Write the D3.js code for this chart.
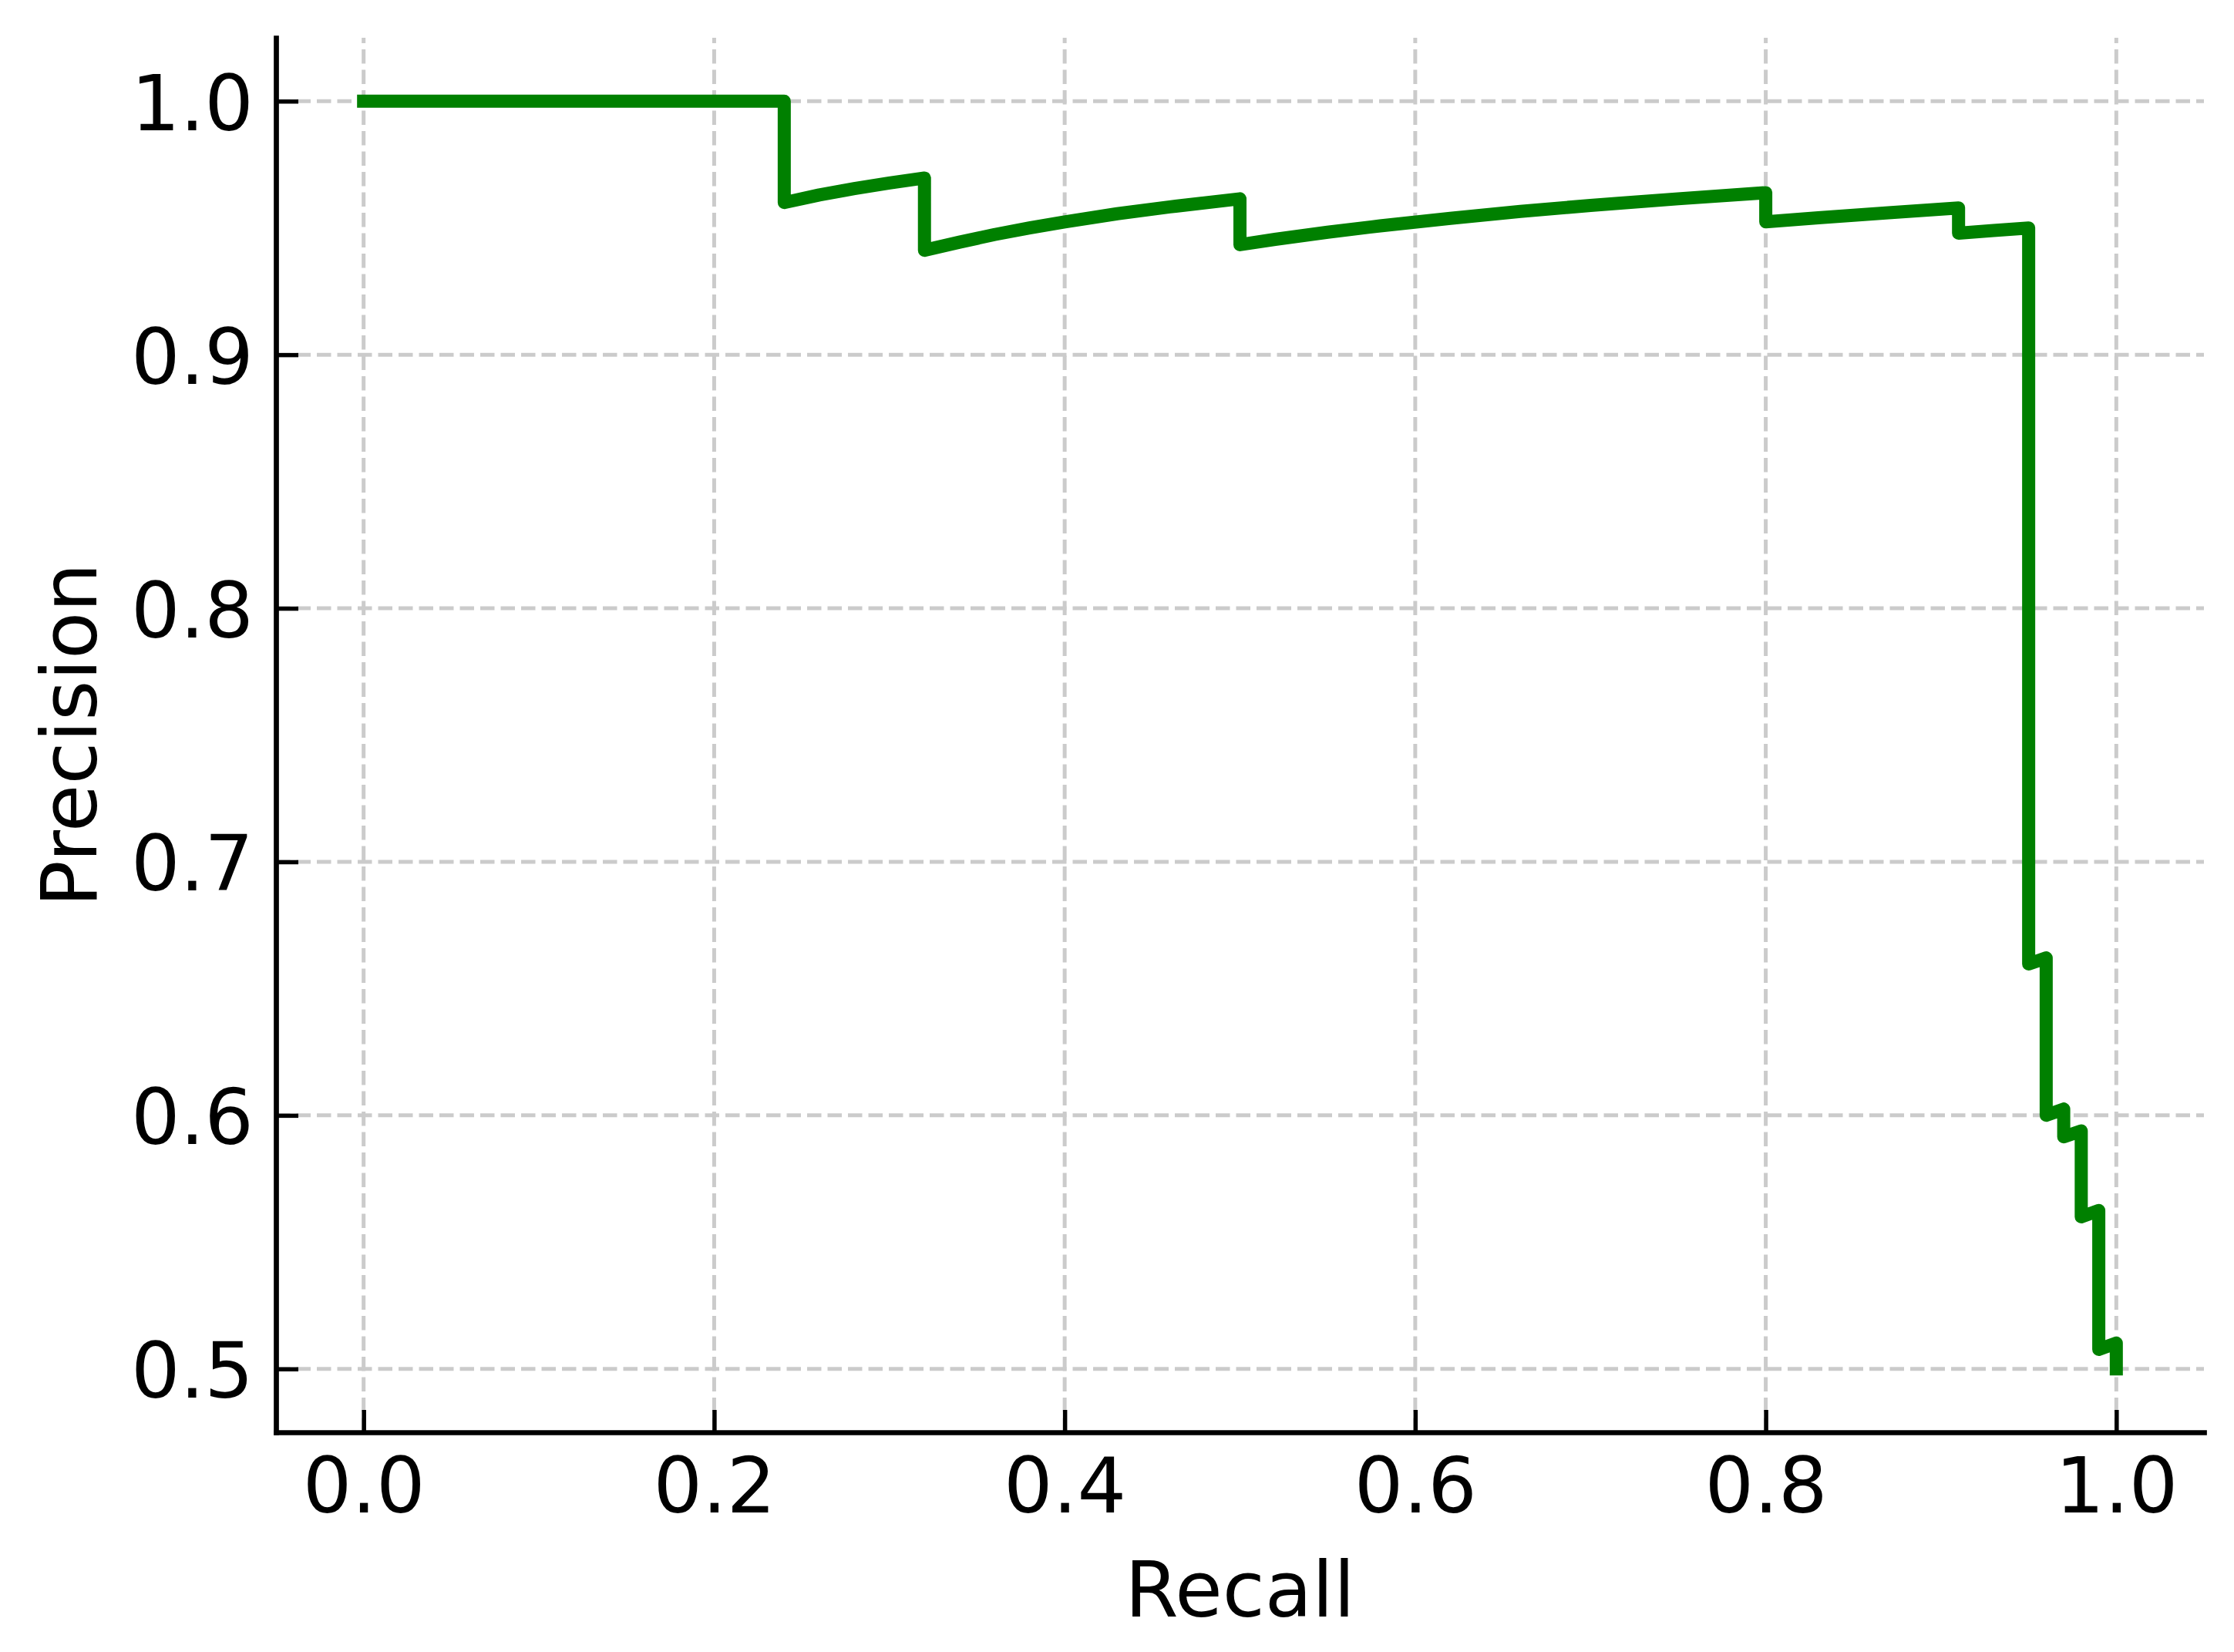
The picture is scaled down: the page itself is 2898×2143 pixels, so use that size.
<!DOCTYPE html>
<html>
<head>
<meta charset="utf-8">
<script src="https://cdn.jsdelivr.net/npm/d3@7"></script>
<style>
  html, body { margin: 0; padding: 0; background: #ffffff; }
  svg { display: block; }
  text { font-family: "DejaVu Sans", sans-serif; fill: #000; }
</style>
</head>
<body>
<script>
// ---- data ----
const recall = [
  0.00, 0.24,
  0.24, 0.26, 0.28, 0.30, 0.32,
  0.32, 0.34, 0.36, 0.38, 0.40, 0.43, 0.46, 0.50,
  0.50, 0.52, 0.55, 0.58, 0.62, 0.66, 0.70, 0.75, 0.80,
  0.80, 0.83, 0.87, 0.91,
  0.91, 0.93, 0.95,
  0.95, 0.96,
  0.96, 0.97,
  0.97, 0.98,
  0.98, 0.99,
  0.99, 1.00,
  1.00
];
const precision = [
  1.0000, 1.0000,
  0.9600, 0.9630, 0.9655, 0.9677, 0.9697,
  0.9412, 0.9444, 0.9474, 0.9500, 0.9524, 0.9556, 0.9583, 0.9615,
  0.9434, 0.9455, 0.9483, 0.9508, 0.9538, 0.9565, 0.9589, 0.9615, 0.9639,
  0.9524, 0.9540, 0.9560, 0.9579,
  0.9479, 0.9490, 0.9500,
  0.6597, 0.6621,
  0.6000, 0.6025,
  0.5915, 0.5939,
  0.5600, 0.5625,
  0.5077, 0.5102,
  0.5000
];
const xTicks = [0.0, 0.2, 0.4, 0.6, 0.8, 1.0];
const yTicks = [0.5, 0.6, 0.7, 0.8, 0.9, 1.0];
const xLabel = "Recall";
const yLabel = "Precision";

// ---- layout ----
const W = 2898, H = 2143;
const pL = 358, pR = 2859, pT = 49, pB = 1858;
const fontPx = 100;

const svg = d3.select("body").append("svg")
  .attr("width", W).attr("height", H)
  .attr("viewBox", `0 0 ${W} ${H}`);
svg.append("rect").attr("width", W).attr("height", H).attr("fill", "#fff");

const x = d3.scaleLinear().domain([-0.05, 1.05]).range([pL, pR]);
const y = d3.scaleLinear().domain([0.475, 1.025]).range([pB, pT]);

// grid
const grid = svg.append("g").attr("class", "grid")
  .attr("stroke", "#cbcbcb").attr("stroke-width", 5)
  .attr("stroke-dasharray", "18.5 8");
grid.selectAll("line.vx").data(xTicks).join("line")
  .attr("class", "vx")
  .attr("x1", d => x(d)).attr("x2", d => x(d))
  .attr("y1", pB).attr("y2", pT);
grid.selectAll("line.hy").data(yTicks).join("line")
  .attr("class", "hy")
  .attr("x1", pL).attr("x2", pR)
  .attr("y1", d => y(d)).attr("y2", d => y(d));

// curve
const pts = recall.map((r, i) => [r, precision[i]]);
svg.append("path")
  .datum(pts)
  .attr("fill", "none")
  .attr("stroke", "#008000")
  .attr("stroke-width", 17)
  .attr("stroke-linejoin", "round")
  .attr("stroke-linecap", "square")
  .attr("d", d3.line().x(d => x(d[0])).y(d => y(d[1])));

// axes
const fmt = d3.format(".1f");
const gx = svg.append("g").attr("transform", `translate(0,${pB})`)
  .call(d3.axisBottom(x).tickValues(xTicks).tickFormat(fmt)
        .tickSizeInner(-29).tickSizeOuter(0).tickPadding(33));
const gy = svg.append("g").attr("transform", `translate(${pL},0)`)
  .call(d3.axisLeft(y).tickValues(yTicks).tickFormat(fmt)
        .tickSizeInner(-29).tickSizeOuter(0).tickPadding(29));

[gx, gy].forEach(g => {
  g.attr("font-family", null).attr("font-size", null);
  g.select(".domain").attr("stroke", "#000").attr("stroke-width", 6.7)
    .attr("stroke-linecap", "square");
  g.selectAll(".tick line").attr("stroke", "#000").attr("stroke-width", 5.5);
  g.selectAll(".tick text").attr("font-size", fontPx).attr("fill", "#000");
});
gx.selectAll(".tick text").attr("dy", "0.71em");
gy.selectAll(".tick text").attr("dy", "0.37em");

// axis labels
svg.append("text")
  .attr("x", (pL + pR) / 2).attr("y", 2097)
  .attr("text-anchor", "middle").attr("font-size", fontPx)
  .text(xLabel);
svg.append("text")
  .attr("transform", `translate(125,${(pT + pB) / 2}) rotate(-90)`)
  .attr("text-anchor", "middle").attr("font-size", fontPx)
  .text(yLabel);
</script>
</body>
</html>
